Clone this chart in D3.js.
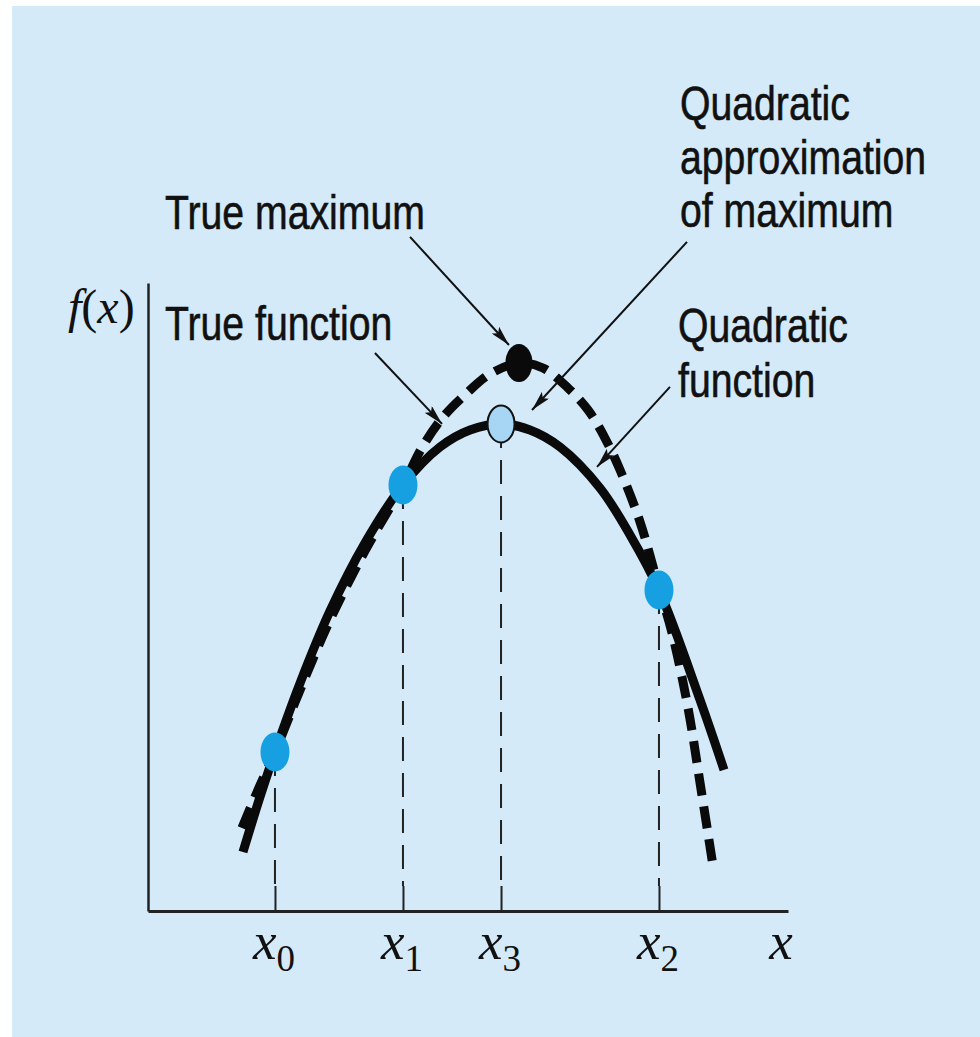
<!DOCTYPE html>
<html>
<head>
<meta charset="utf-8">
<script src="https://cdn.jsdelivr.net/npm/d3@7"></script>
<style>
  html, body { margin: 0; padding: 0; background: #ffffff; }
  svg { display: block; }
</style>
</head>
<body>
<svg id="chart" width="980" height="1037"></svg>
<script>
// ---- data (x in axis units, f(x) in axis units) ----
// true function f(x), drawn dashed
const trueFnX = [0.734, 0.859, 0.992, 1.188, 1.422, 1.695, 1.992, 2.148, 2.305, 2.492, 2.672, 2.898, 3.086, 3.281, 3.438, 3.570, 3.688, 3.844, 3.992, 4.094, 4.219, 4.313, 4.414];
const trueFnY = [0.648, 0.945, 1.242, 1.727, 2.273, 2.813, 3.328, 3.633, 3.859, 4.047, 4.195, 4.281, 4.242, 4.086, 3.914, 3.695, 3.445, 3.039, 2.523, 2.172, 1.586, 1.000, 0.352];
// quadratic through the three samples, drawn solid
const quadFnX = [0.742, 0.875, 0.992, 1.188, 1.422, 1.695, 1.992, 2.281, 2.516, 2.758, 2.984, 3.219, 3.531, 3.766, 3.992, 4.313, 4.500];
const quadFnY = [0.461, 0.891, 1.242, 1.781, 2.344, 2.875, 3.328, 3.625, 3.758, 3.805, 3.758, 3.625, 3.305, 2.938, 2.508, 1.648, 1.102];

// the three samples x0, x1, x2
const sampleSubs = ["0", "1", "2"];
const sampleX = [0.992, 1.992, 3.992];
const sampleY = [1.242, 3.328, 2.508];

// maximum of the quadratic (x3) and true maximum
const approxMax = [2.758, 3.805];
const trueMax = [2.898, 4.281];

// axis ticks
const tickX = [0.992, 1.992, 2.758, 3.992];
const tickSubs = ["0", "1", "3", "2"];

// callouts: text lines, arrow start and arrow tip (axis units)
const calloutLines = [
  ["True maximum"],
  ["Quadratic", "approximation", "of maximum"],
  ["True function"],
  ["Quadratic", "function"]
];
const arrowFrom = [[2.047, 5.266], [4.211, 5.227], [1.773, 4.359], [4.078, 4.094]];
const arrowTo   = [[2.820, 4.422], [3.000, 3.914], [2.297, 3.805], [3.508, 3.469]];

// ---- layout ----
const svg = d3.select("#chart");
const W = 980, H = 1037;
const x = d3.scaleLinear().domain([0, 5]).range([148, 788]);
const y = d3.scaleLinear().domain([0, 4.906]).range([911, 283]);

// callout text anchors (px): left x, first baseline, line step
const calloutPos = [
  { x: 165, y: 229, step: 54 },
  { x: 680, y: 120, step: 53.5 },
  { x: 165, y: 340, step: 54 },
  { x: 678, y: 342, step: 55 }
];

const sansFont = "'Liberation Sans', Arial, sans-serif";
const serifFont = "'Liberation Serif', 'Times New Roman', serif";

svg.append("rect")
  .attr("x", 12).attr("y", 6)
  .attr("width", W - 12).attr("height", H - 6)
  .attr("fill", "#d4eaf9");

const defs = svg.append("defs");
defs.append("marker")
  .attr("id", "head")
  .attr("viewBox", "0 0 20 10")
  .attr("refX", 20).attr("refY", 5)
  .attr("markerWidth", 20).attr("markerHeight", 10)
  .attr("markerUnits", "userSpaceOnUse")
  .attr("orient", "auto")
  .append("path")
  .attr("d", "M0,0 L20,5 L0,10 L4,5 Z")
  .attr("fill", "#111");

// axes
const xAxis = d3.axisBottom(x)
  .tickValues(tickX)
  .tickSizeInner(-25)
  .tickSizeOuter(0)
  .tickFormat("");
const gx = svg.append("g").attr("transform", `translate(0,${y(0)})`).call(xAxis);
gx.select(".domain").attr("stroke", "#222").attr("stroke-width", 3);
gx.selectAll(".tick line").attr("stroke", "#222").attr("stroke-width", 2);

const yAxis = d3.axisLeft(y).tickValues([]).tickSizeOuter(0);
const gy = svg.append("g").attr("transform", `translate(${x(0)},0)`).call(yAxis);
gy.select(".domain").attr("stroke", "#222").attr("stroke-width", 2.5);

// tick labels x with subscript
const tickLabels = svg.append("g")
  .attr("font-family", serifFont)
  .attr("fill", "#111");
tickX.forEach((v, i) => {
  const t = tickLabels.append("text")
    .attr("x", x(v) - 1).attr("y", 959)
    .attr("text-anchor", "middle");
  t.append("tspan").attr("font-style", "italic").attr("font-size", 53).text("x");
  t.append("tspan").attr("font-size", 37).attr("dy", 12).text(tickSubs[i]);
});
tickLabels.append("text")
  .attr("x", 781).attr("y", 959)
  .attr("text-anchor", "middle")
  .attr("font-style", "italic").attr("font-size", 53)
  .text("x");

// f(x) label
const fl = svg.append("text")
  .attr("x", 68).attr("y", 323)
  .attr("font-family", serifFont)
  .attr("font-size", 48)
  .attr("fill", "#111");
fl.append("tspan").attr("font-style", "italic").text("f");
fl.append("tspan").text("(");
fl.append("tspan").attr("font-style", "italic").text("x");
fl.append("tspan").text(")");

// curves
const line = d3.line()
  .x(d => x(d[0])).y(d => y(d[1]))
  .curve(d3.curveCatmullRom.alpha(0.5));

svg.append("path")
  .datum(d3.zip(quadFnX, quadFnY))
  .attr("d", line)
  .attr("fill", "none")
  .attr("stroke", "#0a0a0a")
  .attr("stroke-width", 9);

svg.append("path")
  .datum(d3.zip(trueFnX, trueFnY))
  .attr("d", line)
  .attr("fill", "none")
  .attr("stroke", "#0a0a0a")
  .attr("stroke-width", 9)
  .attr("stroke-dasharray", "22,11");

// drop lines from samples and x3 to the axis
const drops = d3.zip(sampleX.concat([approxMax[0]]), sampleY.concat([approxMax[1]]));
svg.append("g").selectAll("line")
  .data(drops)
  .join("line")
  .attr("x1", d => x(d[0])).attr("x2", d => x(d[0]))
  .attr("y1", d => y(d[1])).attr("y2", y(0) - 25)
  .attr("stroke", "#222")
  .attr("stroke-width", 2)
  .attr("stroke-dasharray", "24,12");

// callout arrows
svg.append("g").selectAll("line")
  .data(d3.zip(arrowFrom, arrowTo))
  .join("line")
  .attr("x1", d => x(d[0][0])).attr("y1", d => y(d[0][1]))
  .attr("x2", d => x(d[1][0])).attr("y2", d => y(d[1][1]))
  .attr("stroke", "#111")
  .attr("stroke-width", 2)
  .attr("marker-end", "url(#head)");

// points
svg.append("g").selectAll("ellipse")
  .data(d3.zip(sampleX, sampleY))
  .join("ellipse")
  .attr("cx", d => x(d[0])).attr("cy", d => y(d[1]))
  .attr("rx", 14.5).attr("ry", 19.5)
  .attr("fill", "#17a0e1");

svg.append("ellipse")
  .attr("cx", x(approxMax[0])).attr("cy", y(approxMax[1]))
  .attr("rx", 13.5).attr("ry", 18.5)
  .attr("fill", "#a6d6f4")
  .attr("stroke", "#111")
  .attr("stroke-width", 2);

svg.append("ellipse")
  .attr("cx", x(trueMax[0])).attr("cy", y(trueMax[1]))
  .attr("rx", 13.5).attr("ry", 19)
  .attr("fill", "#0a0a0a");

// callout text
calloutLines.forEach((lines, i) => {
  const p = calloutPos[i];
  lines.forEach((s, j) => {
    svg.append("text")
      .attr("transform", `translate(${p.x},${p.y + j * p.step}) scale(0.8,1)`)
      .attr("font-family", sansFont)
      .attr("font-size", 49)
      .attr("fill", "#111")
      .attr("stroke", "#111")
      .attr("stroke-width", 0.6)
      .text(s);
  });
});
</script>
</body>
</html>
